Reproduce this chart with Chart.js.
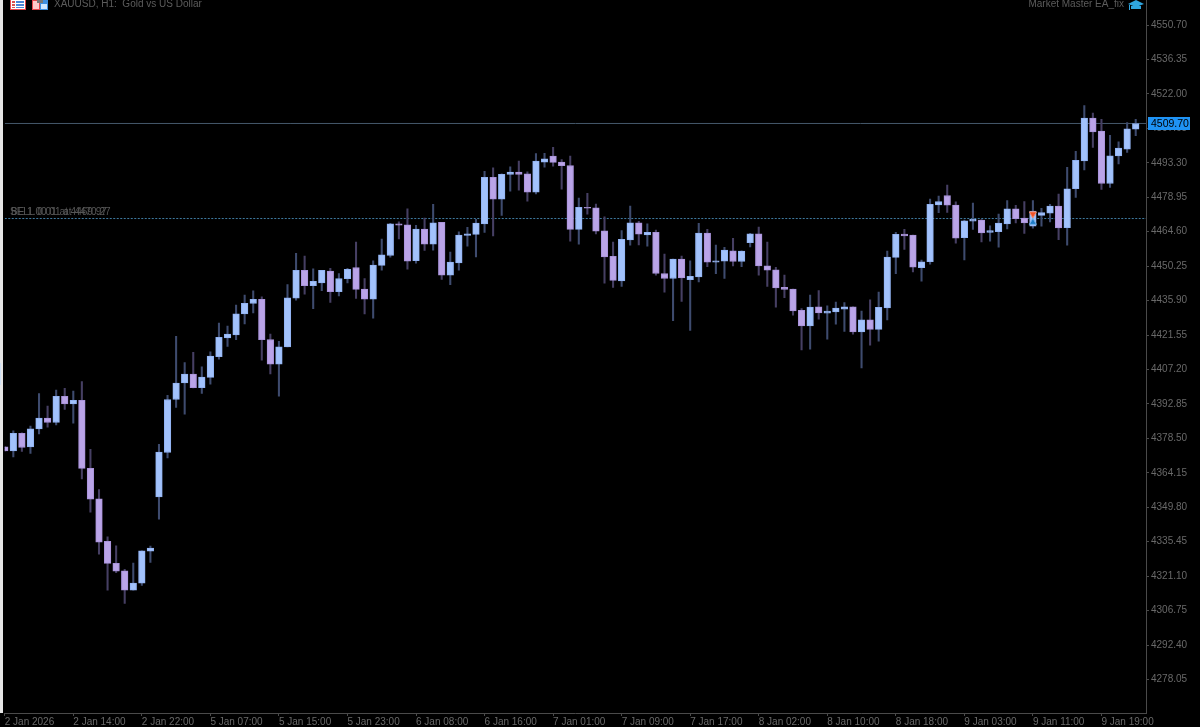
<!DOCTYPE html>
<html>
<head>
<meta charset="utf-8">
<title>XAUUSD H1</title>
<script src="https://cdn.jsdelivr.net/npm/chart.js@4"></script>
<style>
    html, body { margin: 0; padding: 0; background: #000; overflow: hidden; }
    canvas { display: block; }
</style>
</head>
<body>
<canvas id="chart" width="1200" height="727"></canvas>
<script>
// hourly candles
const opens = [
    4375.0, 4373.3, 4380.6, 4374.9, 4382.4, 4386.9, 4385.1, 4396.0, 4392.9, 4394.3,
    4366.0, 4353.3, 4335.6, 4326.4, 4323.3, 4315.3, 4318.2, 4331.5, 4354.1, 4372.6,
    4394.7, 4401.6, 4405.3, 4399.6, 4403.9, 4412.5, 4420.4, 4421.6, 4430.3, 4434.7,
    4436.4, 4419.7, 4409.4, 4416.6, 4436.9, 4448.5, 4442.1, 4443.3, 4448.2, 4439.6,
    4445.0, 4449.7, 4440.7, 4436.5, 4450.6, 4454.7, 4467.9, 4467.5, 4452.5, 4465.7,
    4459.4, 4468.5, 4446.5, 4451.6, 4463.1, 4463.5, 4467.9, 4487.3, 4478.2, 4488.5,
    4489.4, 4488.7, 4481.1, 4493.6, 4496.1, 4493.6, 4492.2, 4465.6, 4474.8, 4474.6,
    4465.0, 4454.3, 4444.1, 4461.2, 4468.3, 4463.3, 4464.3, 4447.2, 4445.1, 4453.2,
    4444.6, 4445.8, 4464.0, 4451.9, 4452.3, 4456.6, 4452.2, 4460.0, 4463.7, 4450.4,
    4448.7, 4441.4, 4440.7, 4431.8, 4425.3, 4433.3, 4430.7, 4431.2, 4432.3, 4433.3,
    4422.8, 4427.9, 4423.9, 4432.9, 4453.9, 4463.6, 4463.2, 4449.6, 4452.1, 4475.8,
    4479.7, 4475.7, 4462.1, 4469.0, 4469.4, 4464.3, 4464.6, 4467.9, 4474.1, 4470.3,
    4466.9, 4471.4, 4472.3, 4475.3, 4466.3, 4482.5, 4494.1, 4511.9, 4506.5, 4484.7,
    4496.2, 4499.0, 4507.3
];
const highs = [
    4375.1, 4381.6, 4380.8, 4383.6, 4397.2, 4391.9, 4398.6, 4399.3, 4398.2, 4402.2,
    4373.9, 4357.2, 4337.5, 4333.7, 4323.9, 4326.5, 4331.6, 4333.6, 4376.0, 4396.4,
    4421.0, 4410.1, 4414.3, 4408.3, 4414.6, 4426.5, 4425.3, 4434.0, 4438.2, 4440.0,
    4437.5, 4421.9, 4418.9, 4442.6, 4455.6, 4454.4, 4449.1, 4448.5, 4449.3, 4447.2,
    4449.3, 4460.3, 4445.1, 4452.5, 4461.5, 4468.1, 4468.7, 4474.1, 4467.3, 4470.3,
    4476.0, 4468.5, 4456.1, 4464.6, 4466.4, 4469.8, 4489.8, 4491.2, 4488.7, 4491.6,
    4494.0, 4489.6, 4497.2, 4497.3, 4499.8, 4494.7, 4496.1, 4478.6, 4480.6, 4476.1,
    4470.8, 4460.3, 4465.1, 4475.3, 4468.9, 4467.9, 4465.3, 4455.3, 4453.2, 4454.4,
    4452.5, 4468.1, 4465.6, 4459.0, 4458.1, 4461.8, 4456.6, 4463.9, 4466.5, 4460.3,
    4449.8, 4446.5, 4440.7, 4432.6, 4438.2, 4440.1, 4433.7, 4435.3, 4435.1, 4433.3,
    4431.5, 4436.2, 4439.4, 4456.5, 4464.3, 4465.6, 4463.2, 4452.8, 4478.2, 4479.4,
    4484.0, 4477.1, 4469.4, 4476.5, 4469.7, 4467.1, 4471.9, 4477.6, 4475.6, 4477.2,
    4477.6, 4474.3, 4476.0, 4480.3, 4491.4, 4498.1, 4517.2, 4514.0, 4511.4, 4504.8,
    4502.1, 4510.1, 4511.4
];
const lows = [
    4373.2, 4370.8, 4373.1, 4372.2, 4380.4, 4383.2, 4384.1, 4390.6, 4384.8, 4361.6,
    4347.8, 4330.3, 4315.3, 4322.5, 4309.7, 4315.3, 4317.2, 4326.8, 4344.8, 4370.4,
    4391.4, 4388.6, 4399.5, 4397.2, 4401.1, 4411.5, 4416.8, 4419.6, 4426.2, 4430.8,
    4411.1, 4405.3, 4396.1, 4416.6, 4436.1, 4438.6, 4432.5, 4440.0, 4435.1, 4437.9,
    4443.3, 4436.8, 4430.3, 4428.6, 4448.6, 4454.0, 4461.6, 4449.0, 4451.5, 4456.8,
    4456.9, 4444.7, 4442.5, 4448.6, 4458.6, 4454.1, 4464.3, 4462.8, 4471.4, 4481.5,
    4481.9, 4477.3, 4480.3, 4491.5, 4491.9, 4482.3, 4460.7, 4459.4, 4471.9, 4463.7,
    4443.2, 4441.4, 4441.8, 4459.0, 4459.1, 4458.6, 4446.5, 4439.4, 4427.5, 4435.6,
    4423.5, 4443.7, 4450.0, 4447.1, 4445.1, 4450.4, 4450.0, 4458.3, 4446.5, 4441.8,
    4433.2, 4437.1, 4429.8, 4415.3, 4415.7, 4428.2, 4419.8, 4426.1, 4423.1, 4421.9,
    4407.8, 4417.3, 4419.0, 4427.9, 4447.1, 4457.2, 4447.9, 4444.0, 4451.1, 4472.5,
    4472.6, 4459.8, 4452.8, 4465.6, 4460.3, 4460.7, 4458.2, 4465.8, 4468.3, 4463.9,
    4466.1, 4466.9, 4468.7, 4461.3, 4459.0, 4478.9, 4490.3, 4499.7, 4482.2, 4483.1,
    4492.8, 4497.6, 4504.6
];
const closes = [
    4373.3, 4380.6, 4374.7, 4382.5, 4386.9, 4385.1, 4396.0, 4392.9, 4394.3, 4366.0,
    4353.2, 4335.3, 4326.4, 4323.2, 4315.3, 4318.2, 4331.6, 4332.8, 4372.8, 4394.7,
    4401.5, 4405.3, 4399.6, 4404.0, 4412.8, 4420.6, 4421.9, 4430.4, 4434.8, 4436.4,
    4419.6, 4409.4, 4416.6, 4437.1, 4448.5, 4442.1, 4443.9, 4448.5, 4439.6, 4445.1,
    4448.9, 4440.6, 4436.5, 4450.7, 4455.0, 4467.9, 4467.3, 4452.3, 4465.7, 4459.4,
    4468.3, 4446.5, 4451.9, 4463.2, 4463.7, 4468.2, 4487.3, 4478.2, 4488.5, 4489.4,
    4488.5, 4481.1, 4494.0, 4495.0, 4493.5, 4492.1, 4465.6, 4474.8, 4474.4, 4464.8,
    4454.1, 4444.3, 4461.4, 4468.3, 4463.6, 4464.3, 4447.2, 4445.1, 4453.2, 4445.4,
    4446.0, 4464.0, 4451.9, 4452.5, 4456.9, 4452.2, 4456.5, 4463.7, 4450.4, 4448.6,
    4441.2, 4440.6, 4431.6, 4425.3, 4433.2, 4430.8, 4431.5, 4432.8, 4433.3, 4422.8,
    4427.9, 4423.9, 4433.1, 4454.0, 4463.5, 4462.9, 4449.8, 4452.1, 4476.0, 4477.2,
    4475.7, 4461.9, 4469.1, 4469.8, 4464.1, 4465.1, 4468.2, 4474.1, 4470.0, 4468.3,
    4473.2, 4472.6, 4475.3, 4466.2, 4482.5, 4494.3, 4511.9, 4506.2, 4484.7, 4496.2,
    4499.4, 4507.5, 4509.7
];

const priceTicks = [
    4550.70, 4536.35, 4522.00, 4507.65, 4493.30, 4478.95, 4464.60, 4450.25, 4435.90, 4421.55,
    4407.20, 4392.85, 4378.50, 4364.15, 4349.80, 4335.45, 4321.10, 4306.75, 4292.40, 4278.05
];
const timeLabels = [
    '2 Jan 2026', '2 Jan 14:00', '2 Jan 22:00', '5 Jan 07:00', '5 Jan 15:00', '5 Jan 23:00',
    '6 Jan 08:00', '6 Jan 16:00', '7 Jan 01:00', '7 Jan 09:00', '7 Jan 17:00', '8 Jan 02:00',
    '8 Jan 10:00', '8 Jan 18:00', '9 Jan 03:00', '9 Jan 11:00', '9 Jan 19:00'
];
const barsPerLabel = 8;
const lastPrice = 4509.70;
const entryPrice = 4470.1;
// trade arrows: candle index, price
const sellArrow = { x: 120, y: 4472.0 };
const buyArrow = { x: 120, y: 4468.5 };

const UP = '#a2c2fc', UP_EDGE = '#92b3f2', UP_WICK = '#3e4b6e';
const DOWN = '#baa4e8', DOWN_EDGE = '#a993da', DOWN_WICK = '#463f63';
const TEXT = '#696969', AXIS = '#4a4a4a';
const FONT = '"Liberation Sans", Arial, sans-serif';

const isUp = closes.map((c, i) => c >= opens[i]);
const endX = 133.2;

// header text, icons, price box, left strip
const decorations = {
    id: 'decorations',
    beforeDraw(chart) {
        const c = chart.ctx;
        c.save();
        c.fillStyle = '#000';
        c.fillRect(0, 0, 1200, 727);
        c.fillStyle = '#e6e6e6';
        c.fillRect(0, 0, 3, 713);
        c.fillStyle = '#cfe0f4';
        c.fillRect(0, 363, 1, 22);
        c.restore();
    },
    afterDraw(chart) {
        const c = chart.ctx;
        c.save();
        c.font = '10px ' + FONT;
        c.textBaseline = 'middle';
        c.fillStyle = '#5c5c5c';
        c.textAlign = 'left';
        c.fillText('XAUUSD, H1:  Gold vs US Dollar', 54, 4.5);
        c.textAlign = 'right';
        c.fillText('Market Master EA_fix', 1124, 4.5);
        c.textAlign = 'left';
        c.fillStyle = '#565656';
        c.fillText('SELL 0.01 at 4469.97', 10, 212);
        c.fillText('BE 1.00 01 at 4470.27', 11, 212);

        // list icon
        c.fillStyle = '#e5484d';
        c.fillRect(10, 0, 16, 10);
        c.fillStyle = '#fff';
        c.fillRect(11, 0, 14, 9);
        c.fillStyle = '#d9534f';
        c.fillRect(12, 1, 3, 2); c.fillRect(12, 4, 3, 2); c.fillRect(12, 7, 3, 1);
        c.fillStyle = '#4a86d8';
        c.fillRect(16, 1, 8, 2); c.fillRect(16, 4, 8, 2); c.fillRect(16, 7, 8, 1);
        // chart icon
        c.fillStyle = '#e5484d';
        c.fillRect(32, 0, 8, 10);
        c.fillStyle = '#ffc9c9';
        c.fillRect(33, 1, 6, 8);
        c.fillStyle = '#3f8fe0';
        c.fillRect(40, 0, 8, 10);
        c.fillStyle = '#cfe6ff';
        c.fillRect(41, 4, 6, 5);
        c.fillStyle = '#777';
        c.fillRect(37, 0, 6, 3);
        // cap icon
        c.fillStyle = '#2fa6e0';
        c.beginPath();
        c.moveTo(1128, 4); c.lineTo(1136, 0); c.lineTo(1144, 4); c.lineTo(1136, 7);
        c.closePath();
        c.fill();
        c.fillRect(1131, 6, 10, 3);
        c.fillRect(1129, 5, 1, 5);

        // current price box
        const y = chart.scales.y.getPixelForValue(lastPrice);
        c.fillStyle = '#1f93f5';
        c.fillRect(1148, Math.round(y) - 6, 42, 13);
        c.fillStyle = '#000';
        c.font = '10.5px ' + FONT;
        c.fillText(lastPrice.toFixed(2), 1151, y + 0.5);
        c.restore();
    }
};

new Chart(document.getElementById('chart'), {
    type: 'bar',
    plugins: [decorations],
    data: {
        datasets: [
            {
                type: 'scatter',
                order: 0,
                data: [sellArrow],
                pointStyle: 'triangle',
                rotation: 180,
                radius: 4,
                backgroundColor: '#f0522a',
                borderColor: '#f58a66',
                borderWidth: 1
            },
            {
                type: 'scatter',
                order: 0,
                data: [buyArrow],
                pointStyle: 'triangle',
                radius: 4,
                backgroundColor: '#1f7cc8',
                borderColor: '#6fb0e6',
                borderWidth: 1
            },
            {
                order: 1,
                data: closes.map((c, i) => ({ x: i, y: [opens[i], c] })),
                barThickness: 6.6,
                backgroundColor: isUp.map(u => u ? UP : DOWN),
                borderColor: isUp.map(u => u ? UP_EDGE : DOWN_EDGE),
                borderWidth: 1,
                borderSkipped: false
            },
            {
                order: 2,
                data: closes.map((c, i) => ({ x: i, y: [lows[i], highs[i]] })),
                barThickness: 1.4,
                backgroundColor: isUp.map(u => u ? UP_WICK : DOWN_WICK),
                borderWidth: 0
            },
            {
                type: 'line',
                order: 3,
                data: [{ x: 0, y: lastPrice }, { x: endX, y: lastPrice }],
                borderColor: '#44586a',
                borderWidth: 1,
                pointRadius: 0
            },
            {
                type: 'line',
                order: 3,
                data: [{ x: 0, y: entryPrice }, { x: endX, y: entryPrice }],
                borderColor: '#3f7aa0',
                borderWidth: 1,
                borderDash: [2, 1.5],
                pointRadius: 0
            }
        ]
    },
    options: {
        responsive: false,
        animation: false,
        datasets: { bar: { grouped: false } },
        layout: { autoPadding: false, padding: { left: 4.75, top: 0, right: 0, bottom: 0 } },
        plugins: { legend: { display: false }, tooltip: { enabled: false } },
        scales: {
            x: {
                type: 'linear',
                offset: false,
                min: 0,
                max: endX,
                afterBuildTicks: scale => {
                    scale.ticks = timeLabels.map((_, i) => ({ value: i * barsPerLabel }));
                },
                afterFit: scale => {
                    scale.height = 14;
                    scale.paddingLeft = 0;
                    scale.paddingRight = 0;
                },
                grid: { offset: false, drawOnChartArea: false, color: AXIS, tickLength: 3 },
                border: { color: AXIS },
                ticks: {
                    autoSkip: false,
                    maxRotation: 0,
                    align: 'start',
                    padding: 0,
                    color: TEXT,
                    font: { family: FONT, size: 10 },
                    callback: v => timeLabels[v / barsPerLabel]
                }
            },
            y: {
                position: 'right',
                min: 4264.07,
                max: 4561.15,
                afterBuildTicks: scale => {
                    scale.ticks = priceTicks.map(v => ({ value: v }));
                },
                afterFit: scale => {
                    scale.width = 54;
                    scale.paddingTop = 0;
                    scale.paddingBottom = 0;
                },
                grid: { drawOnChartArea: false, color: AXIS, tickLength: 3 },
                border: { color: AXIS },
                ticks: {
                    autoSkip: false,
                    padding: 2,
                    color: TEXT,
                    font: { family: FONT, size: 10 },
                    callback: v => v.toFixed(2)
                }
            }
        }
    }
});
</script>
</body>
</html>
